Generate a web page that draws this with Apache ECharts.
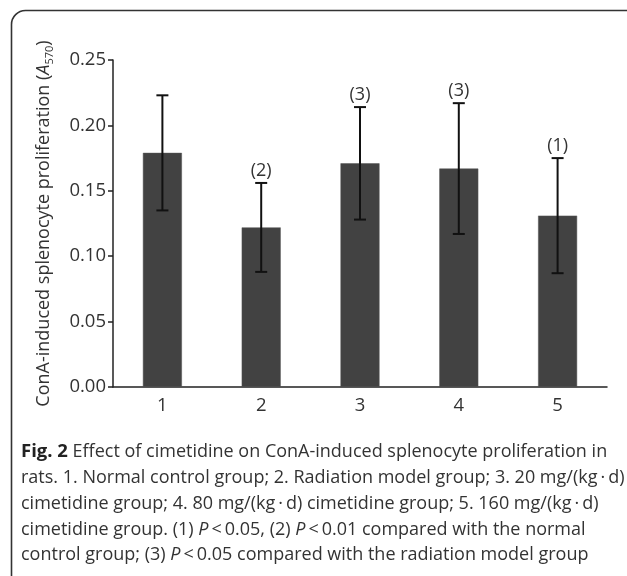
<!DOCTYPE html>
<html>
<head>
<meta charset="utf-8">
<script src="https://cdn.jsdelivr.net/npm/echarts@6/dist/echarts.min.js"></script>
<style>
html,body{margin:0;padding:0;background:#fff;}
#c{width:627px;height:576px;}
</style>
</head>
<body>
<div id="c"></div>
<script>
// ---- data ----
var categories = ['1', '2', '3', '4', '5'];
var means = [0.179, 0.122, 0.171, 0.167, 0.131];
var errUpper = [0.223, 0.156, 0.214, 0.217, 0.175];
var errLower = [0.135, 0.088, 0.128, 0.117, 0.087];
var sigLabels = ['', '(2)', '(3)', '(3)', '(1)'];
var yTicks = [0, 0.05, 0.10, 0.15, 0.20, 0.25];

var captionLines = [
  '{b|Fig. 2} Effect of cimetidine on ConA-induced splenocyte proliferation in',
  'rats. 1. Normal control group; 2. Radiation model group; 3. 20 mg/(kg\u2009\u00b7\u2009d)',
  'cimetidine group; 4. 80 mg/(kg\u2009\u00b7\u2009d) cimetidine group; 5. 160 mg/(kg\u2009\u00b7\u2009d)',
  'cimetidine group. (1) {i|P}\u2009<\u20090.05, (2) {i|P}\u2009<\u20090.01 compared with the normal',
  'control group; (3) {i|P}\u2009<\u20090.05 compared with the radiation model group'
];

var FONT = '"Open Sans", "Noto Sans", sans-serif';
var chart = echarts.init(document.getElementById('c'), null, {renderer: 'canvas'});

var errData = categories.map(function (c, i) {
  return [i, errLower[i], errUpper[i], sigLabels[i]];
});

var graphics = [
  {
    type: 'rect', left: 9, top: 8, z: 100,
    shape: {x: 0, y: 0, width: 640, height: 590, r: 14},
    style: {fill: 'none', stroke: '#333', lineWidth: 1.6}
  }
];
var capCenter0 = 452, capStep = 25.8;
captionLines.forEach(function (t, i) {
  graphics.push({
    type: 'text', left: 21, top: capCenter0 + i * capStep - 12,
    style: {
      text: t,
      font: '18px ' + FONT,
      fill: '#333',
      lineHeight: 24,
      rich: {
        b: {fontWeight: 'bold', fontSize: 18.5, fontFamily: FONT, fill: '#222', lineHeight: 24},
        i: {fontStyle: 'italic', fontSize: 18, fontFamily: FONT, fill: '#333', lineHeight: 24}
      }
    }
  });
});

var option = {
  animation: false,
  backgroundColor: '#fff',
  grid: {left: 113, top: 60, right: 20, bottom: 189, containLabel: false},
  xAxis: {
    type: 'category',
    data: categories,
    axisLine: {lineStyle: {color: '#222', width: 1.5}},
    axisTick: {show: false},
    axisLabel: {color: '#333', fontSize: 18.5, fontFamily: FONT, margin: 9}
  },
  yAxis: {
    type: 'value',
    min: 0, max: 0.25, interval: 0.05,
    name: '{a|ConA-induced splenocyte proliferation (}{it|A}{s|570}{a|)}',
    nameLocation: 'middle',
    nameGap: 58,
    nameTextStyle: {
      rich: {
        a: {fontSize: 18, fontFamily: FONT, color: '#333', lineHeight: 22},
        it: {fontSize: 18, fontFamily: FONT, color: '#333', fontStyle: 'italic', lineHeight: 22},
        s: {fontSize: 11, fontFamily: FONT, color: '#333', lineHeight: 22, verticalAlign: 'bottom', padding: [6, 0, 0, 0]}
      }
    },
    axisLine: {show: true, lineStyle: {color: '#222', width: 1.5}},
    axisTick: {show: true, length: 5, lineStyle: {color: '#222', width: 1.5}},
    splitLine: {show: false},
    axisLabel: {
      color: '#333', fontSize: 18.5, fontFamily: FONT, margin: 7,
      formatter: function (v) { return v.toFixed(2); }
    }
  },
  series: [
    {
      type: 'bar',
      data: means,
      barWidth: 39,
      itemStyle: {color: '#424242', borderColor: '#555', borderWidth: 0.5},
      silent: true
    },
    {
      type: 'custom',
      data: errData,
      z: 10,
      renderItem: function (params, api) {
        var x = api.value(0);
        var lo = api.coord([x, api.value(1)]);
        var hi = api.coord([x, api.value(2)]);
        var cap = 6;
        var ls = {stroke: '#111', lineWidth: 2};
        var children = [
          {type: 'line', shape: {x1: hi[0], y1: hi[1], x2: lo[0], y2: lo[1]}, style: ls},
          {type: 'line', shape: {x1: hi[0] - cap, y1: hi[1], x2: hi[0] + cap, y2: hi[1]}, style: ls},
          {type: 'line', shape: {x1: lo[0] - cap, y1: lo[1], x2: lo[0] + cap, y2: lo[1]}, style: ls}
        ];
        var lab = sigLabels[params.dataIndex];
        if (lab) {
          children.push({
            type: 'text',
            style: {
              text: lab, x: hi[0], y: hi[1] - 3,
              align: 'center', verticalAlign: 'bottom',
              font: '18px ' + FONT, fill: '#333'
            }
          });
        }
        return {type: 'group', children: children};
      }
    }
  ],
  graphic: graphics
};
chart.setOption(option);
</script>
</body>
</html>
